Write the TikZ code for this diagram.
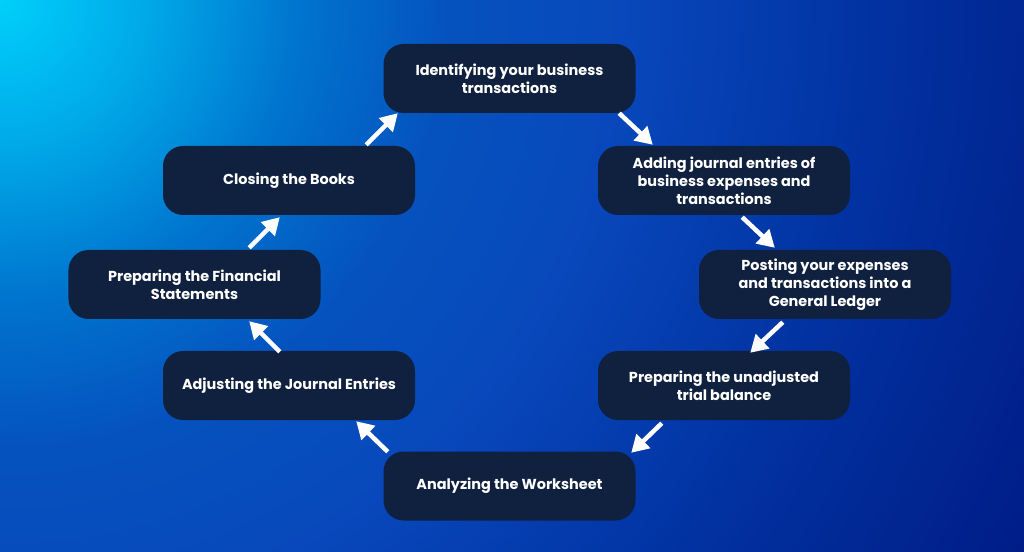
\documentclass[tikz,border=0pt]{standalone}
\usepackage{fontspec}
\setmainfont{Poppins}
\usetikzlibrary{arrows.meta,calc}
\definecolor{c0}{HTML}{00D0FA}
\definecolor{c1}{HTML}{00A8E8}
\definecolor{c2}{HTML}{0074CE}
\definecolor{c3}{HTML}{0552BE}
\definecolor{c4}{HTML}{0848BC}
\definecolor{c5}{HTML}{0234A4}
\definecolor{c6}{HTML}{001C86}
\definecolor{boxfill}{HTML}{10213F}
\pgfdeclareradialshading{bgshade}{\pgfpoint{0bp}{0bp}}{color(0bp)=(c0); color(3.2bp)=(c1); color(6.4bp)=(c2); color(9.6bp)=(c3); color(13.25bp)=(c4); color(18.15bp)=(c5); color(25bp)=(c6); color(50bp)=(c6)}
\tikzset{
  stepbox/.style={draw=none, fill=boxfill, rounded corners=20bp, minimum width=252bp, minimum height=69bp,
    align=center, text=white, font=\fontsize{14.5}{18}\selectfont\bfseries, inner sep=0pt},
  arr/.style={draw=white, line width=4.5bp, -{Triangle[length=17bp,width=19bp]}}
}
\begin{document}
\begin{tikzpicture}[x=1bp,y=-1bp]
\useasboundingbox (0,0) rectangle (1024,552);
\begin{scope}
\clip (0,0) rectangle (1024,552);
\shade[shading=bgshade] (0,0) circle (1170);
\end{scope}
\node[stepbox] (n1) at (509.5,78.5) {Identifying your business\\transactions};
\node[stepbox] (n2) at (724,180.5) {Adding journal entries of\\business expenses and\\transactions};
\node[stepbox] (n3) at (825,284.5) {Posting your expenses\\and transactions into a\\General Ledger};
\node[stepbox] (n4) at (724,385.5) {Preparing the unadjusted\\trial balance};
\node[stepbox] (n5) at (509.5,486) {Analyzing the Worksheet};
\node[stepbox] (n6) at (289,385.5) {Adjusting the Journal Entries};
\node[stepbox] (n7) at (194.5,284.5) {Preparing the Financial\\Statements};
\node[stepbox] (n8) at (289,180.5) {Closing the Books};
\draw[arr] ($(n1.south east)+(-16.5,0)$) -- ($(n2.north west)+(55,-1)$);
\draw[arr] ($(n2.south east)+(-108,2)$) -- ($(n3.north west)+(76,-2)$);
\draw[arr] ($(n3.south west)+(84,3)$) -- ($(n4.north east)+(-100,2)$);
\draw[arr] ($(n4.south west)+(64,3)$) -- ($(n5.north east)+(-4.5,1.5)$);
\draw[arr] ($(n5.north west)+(4.5,0.5)$) -- ($(n6.south east)+(-59,1)$);
\draw[arr] ($(n6.north west)+(117,1)$) -- ($(n7.south east)+(-71.5,2)$);
\draw[arr] ($(n7.north east)+(-71.5,-2)$) -- ($(n8.south west)+(117,2)$);
\draw[arr] ($(n8.north east)+(-49,-1)$) -- ($(n1.south west)+(14.5,0)$);
\end{tikzpicture}
\end{document}
